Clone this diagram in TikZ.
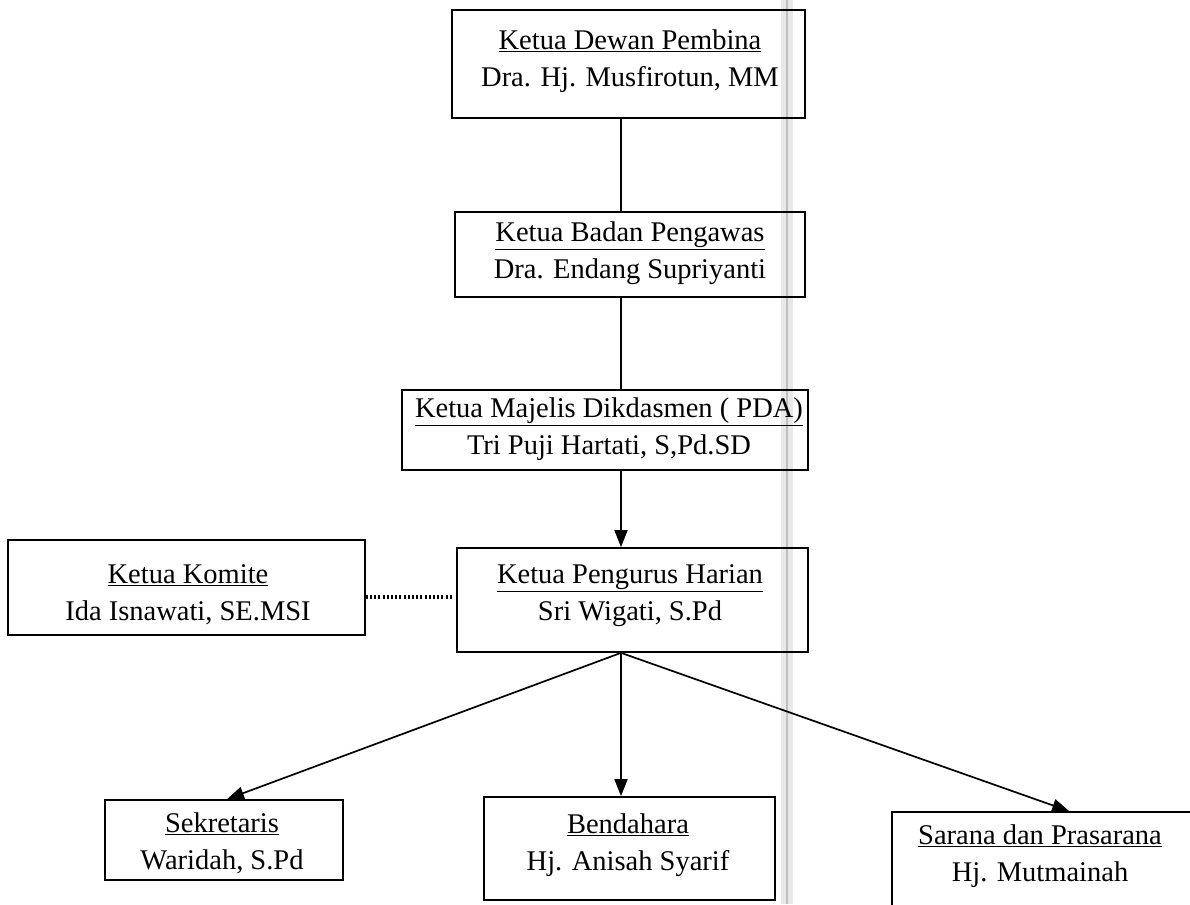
\documentclass[tikz,border=0pt]{standalone}
\usepackage{fontspec}
\setmainfont{Liberation Serif}
\usetikzlibrary{arrows.meta}
\begin{document}
\begin{tikzpicture}[x=1pt,y=-1pt,
  box/.style={draw, line width=1.7pt, inner sep=0pt},
  txt/.style={align=center, font=\fontsize{28.5}{37}\selectfont, inner sep=0pt},
  link/.style={line width=1.7pt},
  arr/.style={line width=1.7pt, -{Triangle[length=17pt,width=13pt]}},
  dots/.style={line width=3.2pt, dash pattern=on 2pt off 2.2pt},
  band/.style={fill=gray!18, draw=none},
]
\useasboundingbox (0,0) rectangle (1190,904);
\clip (0,0) rectangle (1190,904);
% scanner band
\fill[band] (781,0) rectangle (793,904);
\draw[gray!50, line width=2pt] (787,0) -- (787,904);

\coordinate (spine) at (621,0);
\coordinate (dotline) at (0,597);

% boxes
\node[box, minimum width=353pt, minimum height=108pt] (b1) at (628.5,64) {};
\node[box, minimum width=350pt, minimum height=85pt] (b2) at (630,254.5) {};
\node[box, minimum width=406pt, minimum height=80pt] (b3) at (605,430) {};
\node[box, minimum width=351pt, minimum height=104pt] (b4) at (632.5,600) {};
\node[box, minimum width=357pt, minimum height=95pt] (kom) at (186.5,587.5) {};
\node[box, minimum width=238pt, minimum height=80pt] (sek) at (224,840) {};
\node[box, minimum width=291pt, minimum height=103pt] (bend) at (629.5,848.5) {};
\node[box, minimum width=320pt, minimum height=110pt] (sar) at (1052,867) {};

% texts
\node[txt] (t1) at (630,61) {\underline{Ketua Dewan Pembina}\\Dra. Hj. Musfirotun, MM};
\node[txt] (t2) at (630,253) {\underline{Ketua Badan Pengawas}\\Dra. Endang Supriyanti};
\node[txt] (t3) at (609,429) {\underline{Ketua Majelis Dikdasmen ( PDA)}\\Tri Puji Hartati, S,Pd.SD};
\node[txt] (t4) at (630,596) {\underline{Ketua Pengurus Harian}\\Sri Wigati, S.Pd};
\node[txt] (t5) at (188,595) {\underline{Ketua Komite}\\Ida Isnawati, SE.MSI};
\node[txt] (t6) at (222,843) {\underline{Sekretaris}\\Waridah, S.Pd};
\node[txt] (t7) at (628,845) {\underline{Bendahara}\\Hj. Anisah Syarif};
\node[txt] (t8) at (1040,856) {\underline{Sarana dan Prasarana}\\Hj. Mutmainah};

% connectors
\draw[link] (b1.south -| spine) -- (b2.north -| spine);
\draw[link] (b2.south -| spine) -- (b3.north -| spine);
\draw[arr] (b3.south -| spine) -- (b4.north -| spine);
\draw[dots] (kom.east |- dotline) -- ([xshift=-4pt]b4.west |- dotline);
\coordinate (hub) at (b4.south -| spine);
\draw[arr] (hub) -- ([xshift=3pt]sek.north);
\draw[arr] (hub) -- (bend.north -| spine);
\draw[arr] (hub) -- ([xshift=178pt]sar.north west);
\end{tikzpicture}
\end{document}
